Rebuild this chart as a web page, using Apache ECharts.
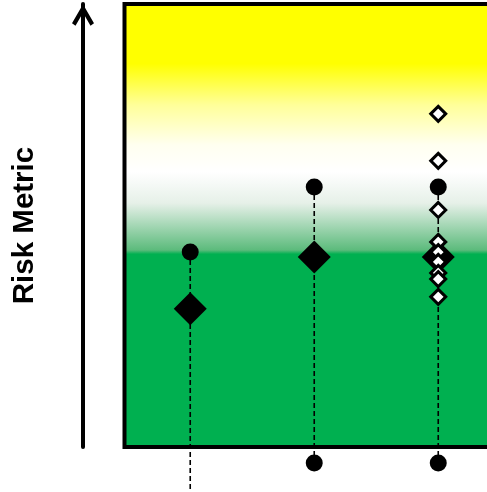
<!DOCTYPE html>
<html>
<head>
<meta charset="utf-8">
<script src="https://cdn.jsdelivr.net/npm/echarts@6/dist/echarts.min.js"></script>
<style>
html,body{margin:0;padding:0;background:#fff;}
#chart{width:487px;height:492px;}
</style>
</head>
<body>
<div id="chart"></div>
<script>
// Data (risk metric on a 0-100 scale)
var positions = [1, 2, 3];
var highValues = [44.0, 58.7, 58.7];     // top dots (range max)
var lowValues = [-14.0, -3.6, -3.6];     // bottom dots (range min)
var centralValues = [31.2, 42.9, 42.9];  // large diamonds
var pointsColumn = 3;
var pointValues = [75.2, 64.6, 53.5, 46.3, 44.0, 41.8, 39.3, 37.9, 33.9]; // hollow diamonds
var axisTitle = 'Risk Metric';

var chart = echarts.init(document.getElementById('chart'));

var rangeSeries = positions.map(function (p, i) {
  return {
    type: 'line',
    data: [[p, highValues[i]], [p, lowValues[i]]],
    symbol: 'none',
    clip: false,
    silent: true,
    z: 1,
    lineStyle: { color: '#000', width: 1.6, type: [5, 3] }
  };
});

var option = {
  animation: false,
  grid: {
    left: 124.5, top: 4, right: -12, bottom: 45,
    outerBoundsMode: 'none',
    containLabel: false,
    show: true,
    borderColor: '#000',
    borderWidth: 4,
    backgroundColor: new echarts.graphic.LinearGradient(0, 0, 0, 1, [
      { offset: 0, color: '#FFFF00' },
      { offset: 0.138, color: '#FFFF00' },
      { offset: 0.23, color: '#FFFF99' },
      { offset: 0.32, color: '#FFFFF0' },
      { offset: 0.38, color: '#FFFFFF' },
      { offset: 0.45, color: '#E6F0E8' },
      { offset: 0.555, color: '#5CBB7C' },
      { offset: 0.564, color: '#00B050' },
      { offset: 1, color: '#00B050' }
    ])
  },
  xAxis: {
    type: 'value', min: 0.47, max: 3.49, show: false
  },
  yAxis: {
    type: 'value', min: 0, max: 100,
    offset: 41.5,
    axisLine: {
      show: true,
      symbol: ['none', 'path://M11,0 L22,19 L18.5,21.5 L11,8.5 L3.5,21.5 L0,19 Z'],
      symbolSize: [22, 22],
      symbolOffset: [0, -11],
      lineStyle: { color: '#000', width: 4 }
    },
    axisTick: { show: false },
    axisLabel: { show: false },
    splitLine: { show: false },
    name: axisTitle,
    nameLocation: 'middle',
    nameRotate: 90,
    nameGap: 43,
    nameTextStyle: {
      fontFamily: 'Liberation Sans',
      fontWeight: 'bold',
      fontSize: 29.5,
      color: '#000'
    }
  },
  series: rangeSeries.concat([
    {
      type: 'scatter',
      clip: false,
      z: 3,
      symbol: 'circle',
      symbolSize: 17,
      itemStyle: { color: '#000', opacity: 1 },
      data: positions.map(function (p, i) { return [p, highValues[i]]; })
        .concat(positions.map(function (p, i) { return [p, lowValues[i]]; }))
    },
    {
      type: 'scatter',
      clip: false,
      z: 4,
      symbol: 'diamond',
      symbolSize: 33,
      itemStyle: { color: '#000', opacity: 1 },
      data: positions.map(function (p, i) { return [p, centralValues[i]]; })
    },
    {
      type: 'scatter',
      clip: false,
      z: 5,
      symbol: 'diamond',
      symbolSize: 15,
      itemStyle: { color: '#fff', borderColor: '#000', borderWidth: 3, opacity: 1 },
      data: pointValues.map(function (v) { return [pointsColumn, v]; })
    }
  ])
};
chart.setOption(option);
</script>
</body>
</html>
